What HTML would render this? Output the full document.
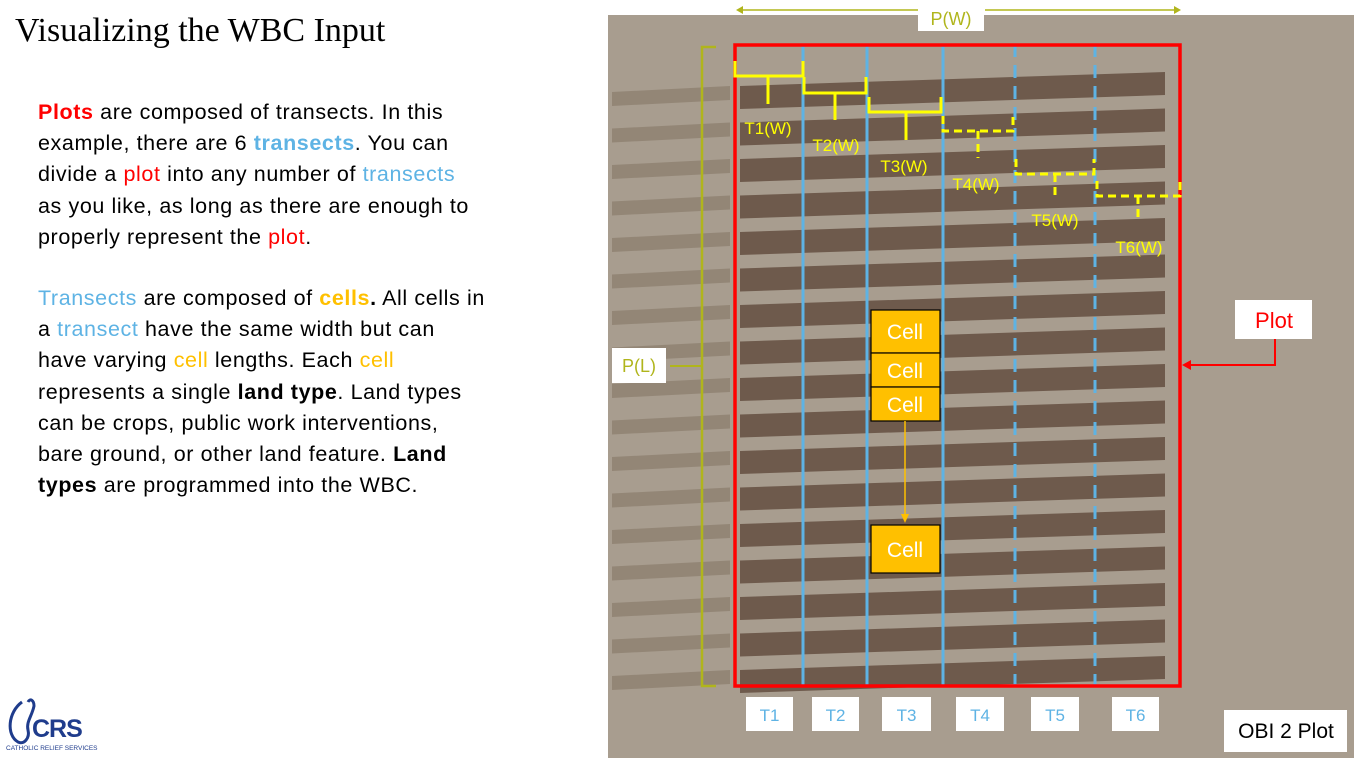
<!DOCTYPE html>
<html><head><meta charset="utf-8"><style>
body{margin:0;width:1354px;height:758px;overflow:hidden;background:#fff;position:relative;font-family:"Liberation Sans",sans-serif}
#title{position:absolute;left:15px;top:12px;font-family:"Liberation Serif",serif;font-size:34px;color:#000;white-space:nowrap}
.para{position:absolute;left:38px;font-size:21.5px;line-height:31.2px;color:#000;letter-spacing:0.6px;white-space:nowrap}
.r{color:#ff0000}.b{color:#5eb3e4}.g{color:#ffc000}
svg{position:absolute;left:0;top:0}
</style></head><body>
<div id="title">Visualizing the WBC Input</div>
<div class="para" style="top:97px"><b class="r">Plots</b> are composed of transects. In this<br>example, there are 6 <b class="b">transects</b>. You can<br>divide a <span class="r">plot</span> into any number of <span class="b">transects</span><br>as you like, as long as there are enough to<br>properly represent the <span class="r">plot</span>.</div>
<div class="para" style="top:283px"><span class="b">Transects</span> are composed of <b class="g">cells</b><b>.</b> All cells in<br>a <span class="b">transect</span> have the same width but can<br>have varying <span class="g">cell</span> lengths. Each <span class="g">cell</span><br>represents a single <b>land type</b>. Land types<br>can be crops, public work interventions,<br>bare ground, or other land feature. <b>Land<br>types</b> are programmed into the WBC.</div>
<svg width="1354" height="758" id="s">
<g>
<path d="M22 702 C8 712 6 735 18 742 C24 745 30 738 28 730 C26 722 32 716 34 706 C34 700 30 698 28 702" fill="none" stroke="#1f3c8c" stroke-width="3"/>
<text x="32" y="737" font-size="25" font-weight="bold" fill="#1f3c8c" letter-spacing="-1">CRS</text>
<text x="6" y="750" font-size="6.5" fill="#1f3c8c">CATHOLIC RELIEF SERVICES</text>
</g>
<rect x="608" y="15" width="746" height="743" fill="#a89d8f"/>
<g id="rows"></g>
<g stroke="#b0b51c" stroke-width="1.5" fill="#b0b51c">
<line x1="740" y1="10" x2="918" y2="10"/><line x1="985" y1="10" x2="1177" y2="10"/>
<path d="M736 10 l7 -4 v8z M1181 10 l-7 -4 v8z" stroke="none"/>
</g>
<rect x="918" y="4" width="66" height="27" fill="#fff"/>
<text x="951" y="25" text-anchor="middle" font-size="18" fill="#b0b51c">P(W)</text>
<path d="M716 47 H702 V686 H716" fill="none" stroke="#b0b51c" stroke-width="2.5"/>
<line x1="670" y1="366" x2="702" y2="366" stroke="#b0b51c" stroke-width="2"/>
<rect x="612" y="348" width="54" height="35" fill="#fff"/>
<text x="639" y="372" text-anchor="middle" font-size="18" fill="#b0b51c">P(L)</text>
<g stroke="#5eb3e4" stroke-width="3">
<line x1="803" y1="44" x2="803" y2="687"/><line x1="867" y1="44" x2="867" y2="687"/><line x1="943" y1="44" x2="943" y2="687"/>
<line x1="1015" y1="44" x2="1015" y2="687" stroke-dasharray="13 8"/><line x1="1095" y1="44" x2="1095" y2="687" stroke-dasharray="13 8"/>
</g>
<rect x="735" y="45" width="445" height="641" fill="none" stroke="#ff0000" stroke-width="3.5"/>
<g stroke="#ffff00" stroke-width="3" fill="none">
<path d="M735 61 V76 H803 V61 M768 76 V104"/>
<path d="M804 77 V93 H866 V77 M835 93 V120"/>
<path d="M869 97 V112 H941 V97 M906 112 V140"/>
<path d="M943 116 V131 H1013 V116 M978 131 V158" stroke-dasharray="8 5"/>
<path d="M1016 159 V174 H1094 V159 M1055 174 V200" stroke-dasharray="8 5"/>
<path d="M1097 181 V196 H1180 V181 M1138 196 V222" stroke-dasharray="8 5"/>
</g>
<g font-size="17" fill="#ffff00" text-anchor="middle">
<text x="768" y="134">T1(W)</text><text x="836" y="151">T2(W)</text><text x="904" y="172">T3(W)</text>
<text x="976" y="190">T4(W)</text><text x="1055" y="226">T5(W)</text><text x="1139" y="253">T6(W)</text>
</g>
<g stroke="#000" stroke-width="1.2" fill="#ffc000">
<rect x="871" y="310" width="69" height="43"/><rect x="871" y="353" width="69" height="34"/>
<rect x="871" y="387" width="69" height="34"/><rect x="871" y="525" width="69" height="48"/>
</g>
<g font-size="21" fill="#fff" text-anchor="middle">
<text x="905" y="339">Cell</text><text x="905" y="378">Cell</text><text x="905" y="412">Cell</text><text x="905" y="557">Cell</text>
</g>
<line x1="905" y1="421" x2="905" y2="515" stroke="#ffc000" stroke-width="1.5"/>
<path d="M905 523 l-4 -9 h8z" fill="#ffc000"/>
<rect x="1235" y="300" width="77" height="39" fill="#fff"/>
<text x="1274" y="328" text-anchor="middle" font-size="22" fill="#ff0000">Plot</text>
<path d="M1275 339 V365 H1190" fill="none" stroke="#ff0000" stroke-width="2"/>
<path d="M1182 365 l9 -5 v10z" fill="#ff0000"/>
<g id="tl"></g>
<rect x="1224" y="710" width="123" height="42" fill="#fff"/>
<text x="1286" y="738" text-anchor="middle" font-size="21" fill="#000">OBI 2 Plot</text>
</svg>
<script>
const transects=["T1","T2","T3","T4","T5","T6"];
const tx=[746,812,882,956,1031,1112];
const tw=[47,47,49,48,48,47];
const NS="http://www.w3.org/2000/svg";
const tl=document.getElementById('tl');
transects.forEach((t,i)=>{
const r=document.createElementNS(NS,'rect');
r.setAttribute('x',tx[i]);r.setAttribute('y',697);r.setAttribute('width',tw[i]);r.setAttribute('height',34);r.setAttribute('fill','#fff');


tl.appendChild(r);
const x=document.createElementNS(NS,'text');
x.setAttribute('x',tx[i]+tw[i]/2);x.setAttribute('y',721);x.setAttribute('text-anchor','middle');x.setAttribute('font-size','17');x.setAttribute('fill','#5eb3e4');
x.textContent=t;


tl.appendChild(x);
});
const rows=document.getElementById('rows');
for(let k=0;k<17;k++){
const y0=86+k*36.5, y1=y0-14;
const p=document.createElementNS(NS,'polygon');
p.setAttribute('points',`740,${y0} 1165,${y1} 1165,${y1+23} 740,${y0+23}`);
p.setAttribute('fill','#6e5a4c');


rows.appendChild(p);
const q=document.createElementNS(NS,'polygon');
q.setAttribute('points',`612,${y0+6} 730,${y0} 730,${y0+14} 612,${y0+20}`);
q.setAttribute('fill','#938676');


rows.appendChild(q);
}
</script>
</body></html>
